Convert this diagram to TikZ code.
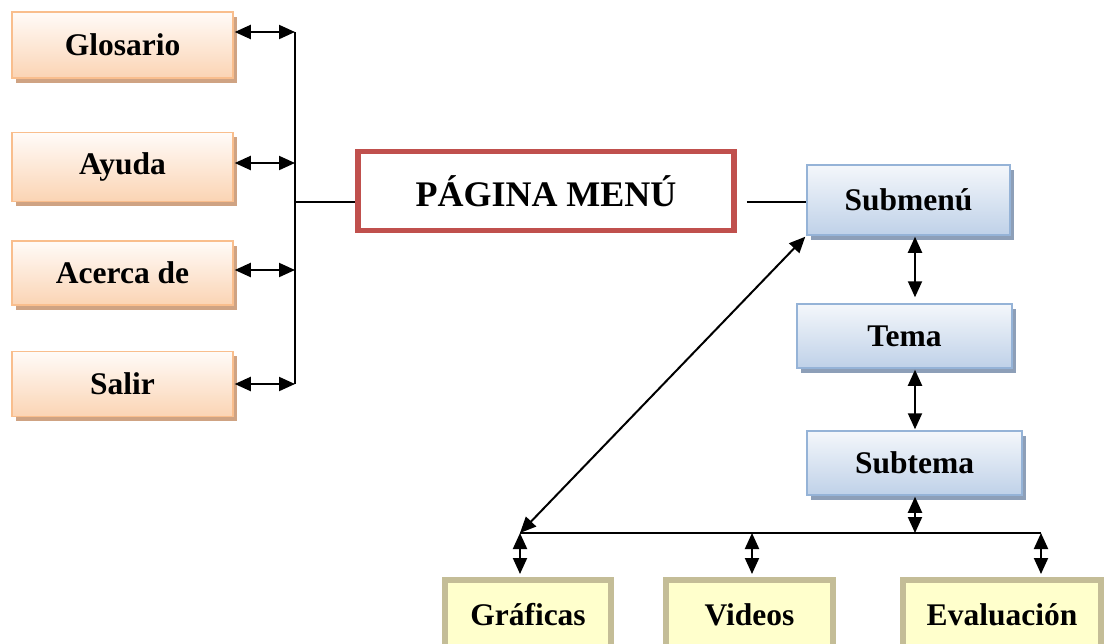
\documentclass[tikz,border=0pt]{standalone}
\usepackage{fontspec}
\setmainfont{Liberation Serif}
\usetikzlibrary{arrows.meta,shadows}
\definecolor{orborder}{HTML}{F9BE8D}
\definecolor{ortop}{HTML}{FFFBF8}
\definecolor{orbot}{HTML}{FBD4B4}
\definecolor{orshadow}{HTML}{CFA383}
\definecolor{blborder}{HTML}{95B3D7}
\definecolor{bltop}{HTML}{F4F7FB}
\definecolor{blbot}{HTML}{BFD1E8}
\definecolor{blshadow}{HTML}{8D9FB8}
\definecolor{redborder}{HTML}{C0504D}
\definecolor{yelfill}{HTML}{FFFFCC}
\definecolor{yelborder}{HTML}{C4BD97}
\tikzset{
  lbl/.style={font=\fontsize{31.5}{36}\selectfont\bfseries, inner sep=0pt},
  orbox/.style={lbl, draw=orborder, line width=1.5pt, top color=ortop, bottom color=orbot,
    general shadow={fill=orshadow, shadow xshift=3.5pt, shadow yshift=-4.5pt},
    minimum width=221pt},
  blbox/.style={lbl, draw=blborder, line width=1.5pt, top color=bltop, bottom color=blbot,
    general shadow={fill=blshadow, shadow xshift=3.5pt, shadow yshift=-5pt}},
  mainbox/.style={lbl, font=\fontsize{36}{40}\selectfont\bfseries, draw=redborder, line width=5.5pt, fill=white,
    minimum width=376pt, minimum height=79pt},
  ylbox/.style={lbl, draw=yelborder, line width=6pt, fill=yelfill, minimum height=70pt},
  conn/.style={line width=2pt, black},
  dbl/.style={conn, {Triangle[length=16pt,width=14pt]}-{Triangle[length=16pt,width=14pt]}},
}
\begin{document}
\begin{tikzpicture}[x=1pt,y=-1pt]
\clip (0,0) rectangle (1106,643);
\fill[white] (0,0) rectangle (1106,643);

% left boxes
\node[orbox, minimum height=66pt] (gl) at (122.5,45) {Glosario};
\node[orbox, minimum height=69pt] (ay) at (122.5,167) {Ayuda};
\node[orbox, minimum height=64pt] (ac) at (122.5,273) {Acerca de};
\node[orbox, minimum height=65pt] (sa) at (122.5,384) {Salir};

% main box
\node[mainbox] (pm) at (546,191) {PÁGINA MENÚ};

% right boxes
\node[blbox, minimum width=203pt, minimum height=70pt] (sm) at (908.5,200) {Submenú};
\node[blbox, minimum width=215pt, minimum height=64pt] (te) at (904.5,336) {Tema};
\node[blbox, minimum width=215pt, minimum height=64pt] (st) at (914.5,463) {Subtema};

% bottom boxes
\node[ylbox, minimum width=166pt] (gr) at (528,615) {Gráficas};
\node[ylbox, minimum width=167pt] (vi) at (749.5,615) {Videos};
\node[ylbox, minimum width=198pt] (ev) at (1002,615) {Evaluación};

% left bus
\coordinate (v1) at (295,32);
\coordinate (v2) at (295,163);
\coordinate (v3) at (295,270);
\coordinate (v4) at (295,384);
\coordinate (vj) at (295,202);
\draw[conn] (v1) -- (v4);
\draw[dbl] ([xshift=1pt]gl.east |- v1) -- (v1);
\draw[dbl] ([xshift=1pt]ay.east |- v2) -- (v2);
\draw[dbl] ([xshift=1pt]ac.east |- v3) -- (v3);
\draw[dbl] ([xshift=1pt]sa.east |- v4) -- (v4);
\draw[conn] (vj) -- (pm.west |- vj);

% main to submenu
\draw[conn] ([xshift=10pt]pm.east |- vj) -- (sm.west |- vj);

% vertical chain
\coordinate (ax) at (915,0);
\draw[dbl] ([yshift=-1pt]sm.south -| ax) -- ([yshift=6pt]te.north -| ax);
\draw[dbl] ([yshift=-1pt]te.south -| ax) -- ([yshift=1pt]st.north -| ax);

% bottom bus
\coordinate (bl) at (520,533);
\coordinate (br) at (1041,533);
\coordinate (bm) at (915,533);
\coordinate (bv) at (752,533);
\draw[conn] (bl) -- (br);
\draw[dbl] ([yshift=-1pt]st.south -| ax) -- (bm);
\draw[dbl] (bl) -- ([yshift=3pt]gr.north -| bl);
\draw[dbl] (bv) -- ([yshift=3pt]vi.north -| bv);
\draw[dbl] (br) -- ([yshift=3pt]ev.north -| br);

% diagonal
\draw[dbl] ([shift={(-1pt,-1pt)}]sm.south west) -- (bl);
\end{tikzpicture}
\end{document}
